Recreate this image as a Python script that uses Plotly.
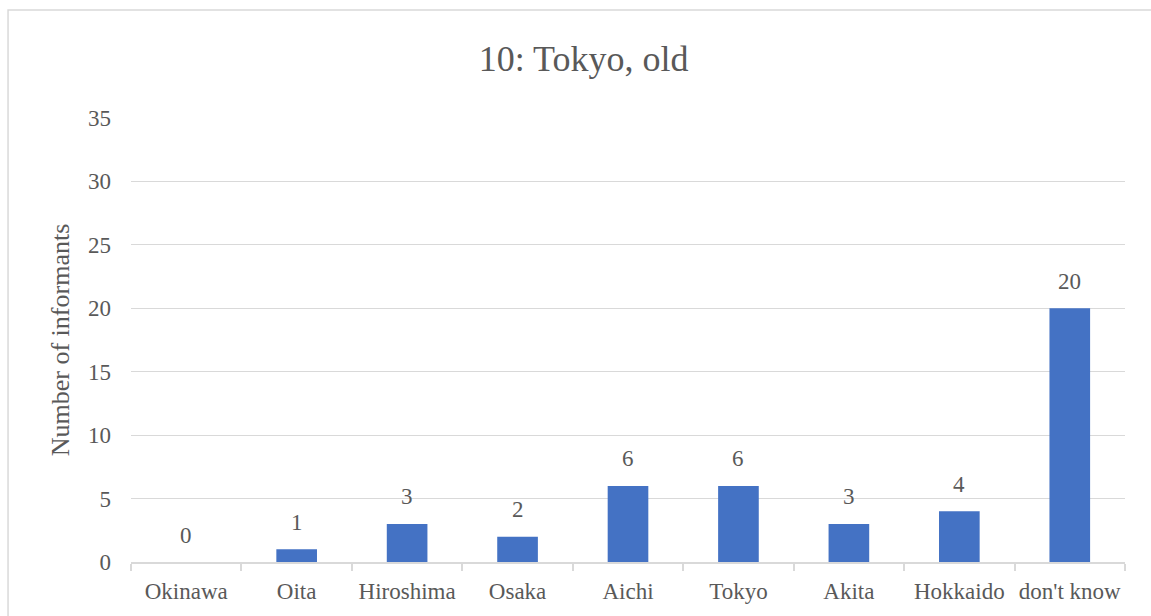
import plotly.graph_objects as go

# Responses for prompt 10 (Tokyo speakers, older group)
categories = ["Okinawa", "Oita", "Hiroshima", "Osaka", "Aichi", "Tokyo", "Akita", "Hokkaido", "don't know"]
counts = [0, 1, 3, 2, 6, 6, 3, 4, 20]
y_ticks = [0, 5, 10, 15, 20, 25, 30, 35]

FONT = "Liberation Serif"
TEXT = "#595959"
GRID = "#d9d9d9"
LABEL_SIZE = 23

fig = go.Figure(
    go.Bar(
        x=categories,
        y=counts,
        marker=dict(color="#4472C4", line=dict(width=0)),
        hoverinfo="x+y",
    )
)

# value labels sitting above each bar
for cat, val in zip(categories, counts):
    fig.add_annotation(
        x=cat,
        y=val,
        text=str(val),
        showarrow=False,
        yanchor="middle",
        yshift=27,
        font=dict(family=FONT, size=LABEL_SIZE, color=TEXT),
    )

fig.update_layout(
    width=1151,
    height=616,
    margin=dict(l=131, r=26, t=118, b=54),
    paper_bgcolor="white",
    plot_bgcolor="white",
    bargap=0.632,
    showlegend=False,
    title=dict(
        text="10: Tokyo, old",
        font=dict(family=FONT, size=36, color=TEXT),
        x=0.507,
        xanchor="center",
        y=0.905,
        yanchor="middle",
    ),
    font=dict(family=FONT, color=TEXT),
    shapes=[
        dict(
            type="rect",
            xref="paper",
            yref="paper",
            x0=-0.1237,
            x1=1.04,
            y0=-0.14,
            y1=1.2432,
            line=dict(color=GRID, width=1.5),
            fillcolor="rgba(0,0,0,0)",
            layer="below",
        )
    ],
)

fig.update_xaxes(
    type="category",
    automargin=False,
    tickangle=0,
    showline=True,
    linecolor=GRID,
    linewidth=1.5,
    ticks="outside",
    tickson="boundaries",
    ticklen=7,
    tickcolor=GRID,
    tickwidth=1.5,
    ticklabelstandoff=8,
    tickfont=dict(family=FONT, size=LABEL_SIZE, color=TEXT),
    showgrid=False,
)

fig.update_yaxes(
    automargin=False,
    range=[0, 35],
    tickvals=y_ticks,
    showgrid=True,
    gridcolor=GRID,
    gridwidth=1.2,
    zeroline=False,
    showline=False,
    ticks="",
    ticklabelstandoff=19,
    tickfont=dict(family=FONT, size=LABEL_SIZE, color=TEXT),
    title=dict(text="Number of informants", font=dict(family=FONT, size=26, color=TEXT), standoff=10),
)

fig.write_html("out.html")
